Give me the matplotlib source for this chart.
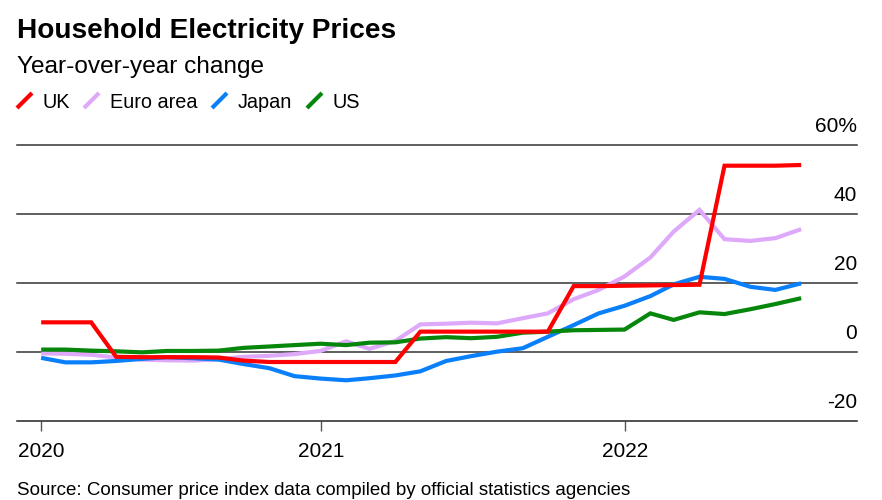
import numpy             as np
import pandas            as pd
import matplotlib
matplotlib.use('Agg')
import matplotlib.pyplot as plt
import matplotlib.dates  as mdates
from matplotlib.lines import Line2D

plt.rcParams['font.family'] = ['Liberation Sans', 'DejaVu Sans']

# Monthly year-over-year change (%), month-end dates Jan 2020 - Jul 2022
months = pd.date_range('2020-01-01', periods=31, freq='MS') + pd.offsets.MonthEnd(0)

uk = [8.6, 8.6, 8.6, -1.4, -1.5, -1.5, -1.5, -1.6, -2.5, -2.9,
      -2.9, -2.9, -2.9, -2.9, -2.9, 5.9, 5.9, 5.9, 5.9, 5.9,
      5.9, 19.1, 19.1, 19.2, 19.3, 19.4, 19.5, 54.0, 54.0, 54.0,
      54.2]
euro = [-0.4, -0.5, -0.8, -1.6, -2.2, -2.4, -2.5, -2.1, -1.4, -1.1,
        -0.6, 0.3, 3.1, 0.9, 3.2, 8.0, 8.2, 8.5, 8.3, 9.8,
        11.2, 15.3, 18.0, 21.9, 27.4, 34.9, 41.2, 32.7, 32.2, 33.0,
        35.6]
japan = [-1.7, -3.0, -3.0, -2.6, -2.0, -1.5, -1.8, -2.2, -3.5, -4.7,
         -7.0, -7.7, -8.2, -7.6, -6.8, -5.6, -2.6, -1.2, 0.1, 1.1,
         4.4, 7.8, 11.2, 13.4, 16.2, 19.6, 21.8, 21.2, 18.9, 18.0,
         19.9]
us = [0.7, 0.7, 0.4, 0.2, -0.1, 0.3, 0.3, 0.4, 1.2, 1.6,
      2.0, 2.4, 2.0, 2.7, 2.8, 3.9, 4.3, 4.0, 4.4, 5.6,
      5.9, 6.3, 6.4, 6.5, 11.2, 9.3, 11.5, 11.0, 12.4, 13.9,
      15.6]

series_names  = ['UK', 'Euro area', 'Japan', 'US']
series_colors = ['#ff0000', '#dea9fa', '#0a7ffa', '#06870b']
y_ticks  = [-20, 0, 20, 40, 60]
y_labels = ['-20', '0', '20', '40', '60%']
x_ticks  = [pd.Timestamp('2020-01-31'), pd.Timestamp('2021-01-01'), pd.Timestamp('2022-01-01')]
x_labels = ['2020', '2021', '2022']

W, H = 882, 500
fig = plt.figure(figsize=(W / 100, H / 100), dpi=100)
ax = fig.add_axes([17 / W, 79 / H, 840 / W, 276 / H])

# horizontal gridlines
for v in y_ticks[1:]:
	ax.axhline(v, color='#333333', lw=1.1, zorder=1, clip_on=False)

data = {'UK': uk, 'Euro area': euro, 'Japan': japan, 'US': us}
colors = dict(zip(series_names, series_colors))
for name in ['Euro area', 'Japan', 'US', 'UK']:
	ax.plot(months, data[name], color=colors[name], lw=3, solid_capstyle='butt',
	        solid_joinstyle='miter', zorder=3)

ax.set_ylim(-20, 60)
ax.set_xlim(pd.Timestamp('2020-01-02'), pd.Timestamp('2022-10-06'))

for s in ['top', 'right', 'left']:
	ax.spines[s].set_visible(False)
ax.spines['bottom'].set_color('#222222')
ax.spines['bottom'].set_linewidth(1.1)

ax.set_yticks([])
ax.set_xticks(x_ticks)
ax.set_xticklabels(x_labels, fontsize=15)
ax.tick_params(axis='x', length=7, width=1, color='#555555', pad=8)

# value labels on the right, sitting above each gridline
for v, lab in zip(y_ticks, y_labels):
	ax.annotate(lab, xy=(1.0, v), xycoords=('axes fraction', 'data'),
	            xytext=(0, 13), textcoords='offset points',
	            ha='right', va='center', fontsize=15)

def fy(py):
	return 1 - py / H

fig.text(17 / W, fy(37.7), 'Household Electricity Prices', fontsize=20.2,
         fontweight='bold', va='baseline')
fig.text(17 / W, fy(72.5), 'Year-over-year change', fontsize=17.6, va='baseline')

# legend with short slashes
legend_x = [(17, 43), (84, 110), (212, 238), (307, 333)]
for (sx, tx), name in zip(legend_x, series_names):
	fig.add_artist(Line2D([sx / W, (sx + 15) / W], [fy(108), fy(93)],
	                      color=colors[name], lw=3, solid_capstyle='butt'))
	fig.text(tx / W, fy(108), name, fontsize=14.3, va='baseline')

fig.text(17 / W, fy(495), 'Source: Consumer price index data compiled by official statistics agencies',
         fontsize=13.5, va='baseline')

fig.savefig('out.png', dpi=100)
